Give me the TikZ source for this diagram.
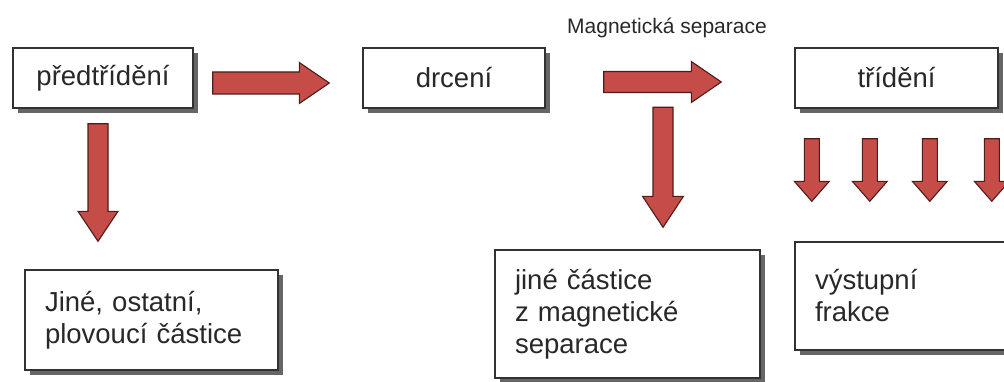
\documentclass[tikz,border=0pt]{standalone}
\usepackage{fontspec}
\setmainfont{Liberation Sans}
\usetikzlibrary{calc,shadows}
\definecolor{arrowred}{RGB}{198,76,72}
\definecolor{arrowedge}{RGB}{80,28,26}
\definecolor{boxedge}{RGB}{50,50,50}
\definecolor{txt}{RGB}{40,40,40}
\tikzset{
  box/.style={draw=boxedge, line width=1.4pt, fill=white,
    drop shadow={shadow xshift=5pt, shadow yshift=-5pt, fill=black!60, opacity=1},
    font=\fontsize{27.5}{32}\selectfont, text=txt, inner sep=0pt},
  multibox/.style={box, align=left, inner xsep=20pt},
  blockarrow/.style={fill=arrowred, draw=arrowedge, line width=1.1pt, line join=miter},
  smalltext/.style={font=\fontsize{21}{24}\selectfont, text=txt, inner sep=0pt}
}
% horizontal block arrow: tail, tip, shaft half-height, head half-height, head length
\newcommand\fatR[5]{\draw[blockarrow] ($(#1)+(0,#3)$) -- ($(#2)+(-#5,#3)$) -- ($(#2)+(-#5,#4)$) -- (#2) -- ($(#2)+(-#5,-#4)$) -- ($(#2)+(-#5,-#3)$) -- ($(#1)+(0,-#3)$) -- cycle;}
% downward block arrow: tail, tip, shaft half-width, head half-width, head length
\newcommand\fatD[5]{\draw[blockarrow] ($(#1)+(-#3,0)$) -- ($(#2)+(-#3,#5)$) -- ($(#2)+(-#4,#5)$) -- (#2) -- ($(#2)+(#4,#5)$) -- ($(#2)+(#3,#5)$) -- ($(#1)+(#3,0)$) -- cycle;}
\begin{document}
\begin{tikzpicture}[x=1pt,y=1pt]
\useasboundingbox (0,0) rectangle (1004,381);
\clip (0,0) rectangle (1004,381);

\node[box, minimum width=180pt, minimum height=60pt] (pre) at (103,303) {předtřídění};
\node[box, minimum width=182pt, minimum height=60pt] (drc) at (454,303) {drcení};
\node[box, minimum width=203pt, minimum height=60pt] (tri) at (896.5,303) {třídění};

\node[multibox, text width=213pt, minimum height=100pt] (jine) at (151.5,61) {Jiné, ostatní,\\plovoucí částice};
\node[multibox, text width=225pt, minimum height=128pt] (mag) at (627.5,67) {jiné částice\\z magnetické\\separace};
\node[multibox, text width=195pt, minimum height=108pt] (vys) at (912.5,85) {výstupní\\frakce};

\node[smalltext, anchor=base west] (magsep) at (567,347) {Magnetická separace};

% arrow předtřídění -> drcení
\coordinate (a1s) at ($(pre.east)+(19,-5)$);
\coordinate (a1e) at ($(drc.west)+(-33,-5)$);
\fatR{a1s}{a1e}{11}{20.5}{30}
% arrow drcení -> třídění
\coordinate (a2s) at ($(drc.east)+(58,-4)$);
\coordinate (a2e) at ($(tri.west)+(-73,-4)$);
\fatR{a2s}{a2e}{10.5}{20.5}{30}
% předtřídění -> jiné, ostatní
\coordinate (d1s) at ($(pre.south)+(-5,-15)$);
\coordinate (d1e) at ($(jine.north)+(-53.5,28)$);
\fatD{d1s}{d1e}{10}{20}{30}
% magnetic separation -> jiné částice
\coordinate (d2s) at ($(mag.north)+(35.5,142)$);
\coordinate (d2e) at ($(mag.north)+(35.5,22)$);
\fatD{d2s}{d2e}{10}{20.5}{31}
% třídění -> výstupní frakce
\foreach \dx [count=\i] in {17.5,75.5,135.5,197.5} {
  \coordinate (s\i) at ($(tri.south west)+(\dx,-30)$);
  \coordinate (e\i) at ($(vys.north west)+(\dx,40)$);
  \fatD{s\i}{e\i}{7.5}{17.5}{20}
}
\end{tikzpicture}
\end{document}
